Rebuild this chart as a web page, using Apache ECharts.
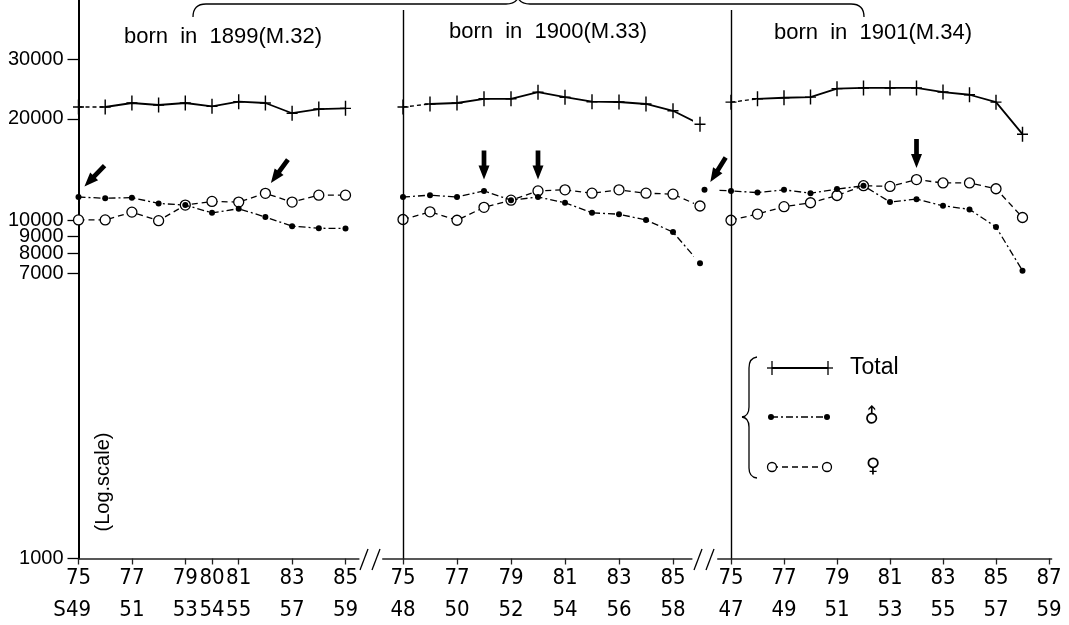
<!DOCTYPE html>
<html><head><meta charset="utf-8">
<script src="https://cdn.jsdelivr.net/npm/echarts@6/dist/echarts.min.js"></script>
<style>html,body{margin:0;padding:0;background:#fff}#c{width:1069px;height:625px}</style>
</head><body><div id="c"></div>
<script>
// ---------- data ----------
const titles = ['born  in  1899(M.32)', 'born  in  1900(M.33)', 'born  in  1901(M.34)'];

const years1   = [75,76,77,78,79,80,81,82,83,84,85];
const total1   = [21700,21700,22300,22000,22300,21800,22500,22300,20800,21400,21500];
const male1    = [11750,11650,11700,11250,11120,10550,10850,10250,9630,9500,9480];
const female1  = [10050,10050,10600,10000,11120,11400,11350,12050,11350,11900,11900];

const years2   = [75,76,77,78,79,80,81,82,83,84,85,86];
const total2   = [21700,22150,22300,22950,22950,24000,23200,22500,22450,22150,21150,19300];
const male2    = [11750,11900,11750,12250,11500,11750,11300,10550,10450,10050,9250,7480];
const female2  = [10080,10620,10030,10950,11500,12250,12340,12060,12340,12060,11980,11050];

const years3     = [75,76,77,78,79,80,81,82,83,84,85,86];
const total3     = [22430,22950,23110,23220,24590,24710,24710,24710,24030,23590,22430,18030];
const maleYears3 = [74,75,76,77,78,79,80,81,82,83,84,85,86];
const male3      = [12340,12250,12110,12340,12060,12400,12690,11360,11580,11070,10800,9580,7110];
const female3    = [10030,10460,11000,11300,11870,12690,12630,13230,12930,12930,12430,10220];

// arrows: [panel, which series, year]
const arrows = [[0,'male',75],[0,'female',82],[1,'male',78],[1,'female',80],[2,'male',74],[2,'female',82]];

const yTicks = [1000,7000,8000,9000,10000,20000,30000];
const xTicks1 = [75,77,79,80,81,83,85];
const showa1  = ['S49','51','53','54','55','57','59'];
const xTicks2 = [75,77,79,81,83,85];
const showa2  = ['48','50','52','54','56','58'];
const xTicks3 = [75,77,79,81,83,85,87];
const showa3  = ['47','49','51','53','55','57','59'];

// ---------- layout ----------
const panels = [
  {years: years1, total: total1, maleX: years1, male: male1, female: female1, xmin: 75,    xmax: 85.5,  left: 78.5,  pxYr: 26.7, ticks: xTicks1, showa: showa1},
  {years: years2, total: total2, maleX: years2, male: male2, female: female2, xmin: 74.25, xmax: 85.7,  left: 382.75, pxYr: 27.0, ticks: xTicks2, showa: showa2},
  {years: years3, total: total3, maleX: maleYears3, male: male3, female: female3, xmin: 74.5, xmax: 87.1, left: 717.75, pxYr: 26.5, ticks: xTicks3, showa: showa3}
];
const Y_MIN = 1000, Y_MAX = 45000, GRID_TOP = 0, GRID_H = 558.5;
const NARROW = "'Liberation Sans Narrow','Arial Narrow','DejaVu Sans Condensed',sans-serif";
const SANS = "'Liberation Sans',Arial,sans-serif";

const zip = (xs, ys) => xs.map((x, i) => [x, ys[i]]);
const PLUS = 'path://M4.35,0H5.65V6.35H10V7.65H5.65V14H4.35V7.65H0V6.35H4.35Z';
const ARROW = 'path://M3,0H7.5V15H10.5L5.25,29L0,15H3Z';

const grids = [], xAxes = [], yAxes = [], series = [];
panels.forEach((p, i) => {
  const width = (p.xmax - p.xmin) * p.pxYr;
  grids.push({left: p.left, top: GRID_TOP, width: width, height: GRID_H, outerBoundsMode: 'none', containLabel: false});
  xAxes.push({
    type: 'value', gridIndex: i, min: p.xmin, max: p.xmax,
    axisLine: {show: true, onZero: false, lineStyle: {color: '#222', width: 1.5}},
    splitLine: {show: false},
    axisTick: {show: true, customValues: p.ticks, length: 6, lineStyle: {color: '#222', width: 1.3}},
    axisLabel: {
      customValues: p.ticks, margin: 4, color: '#000',
      formatter: v => {
        const k = p.ticks.indexOf(Math.round(v));
        if (k < 0) return '';
        const s = p.showa[k];
        return '{y|' + p.ticks[k] + '}\n{s|' + s + '}' + (s.charAt(0) === 'S' ? '{g|S}' : '');
      },
      rich: {
        y: {fontFamily: NARROW, fontSize: 22, lineHeight: 32, color: '#000'},
        s: {fontFamily: NARROW, fontSize: 22, lineHeight: 32, color: '#000'},
        g: {fontFamily: NARROW, fontSize: 22, lineHeight: 32, color: 'rgba(0,0,0,0)'}
      }
    }
  });
  yAxes.push({
    type: 'log', logBase: 10, gridIndex: i, min: Y_MIN, max: Y_MAX,
    show: i === 0,
    axisLine: {show: i === 0, lineStyle: {color: '#000', width: 2}},
    splitLine: {show: false},
    axisTick: {show: i === 0, customValues: yTicks, length: 11, lineStyle: {color: '#000', width: 1.3}},
    axisLabel: {show: i === 0, customValues: yTicks, margin: 15, color: '#000', fontFamily: SANS, fontSize: 20,
      formatter: v => String(Math.round(v))}
  });
  const base = {xAxisIndex: i, yAxisIndex: i, clip: false, animation: false, silent: true};
  series.push(Object.assign({}, base, {
    type: 'line', name: 'female' + i, data: zip(p.years, p.female),
    symbol: 'circle', symbolSize: 10,
    lineStyle: {color: '#000', width: 1.3, type: [6, 4]},
    itemStyle: {color: '#fff', borderColor: '#000', borderWidth: 1.3, opacity: 1}, z: 2
  }));
  series.push(Object.assign({}, base, {
    type: 'line', name: 'male' + i, data: zip(p.maleX, p.male),
    symbol: 'circle', symbolSize: 6,
    lineStyle: {color: '#000', width: 1.3, type: [7, 3, 2, 3]},
    itemStyle: {color: '#000', opacity: 1}, z: 3
  }));
  const tot = zip(p.years, p.total);
  series.push(Object.assign({}, base, {
    type: 'line', data: tot.slice(0, 2), symbol: 'none',
    lineStyle: {color: '#000', width: 1.3, type: [4, 3]}, z: 2
  }));
  const mainTot = Object.assign({}, base, {
    type: 'line', data: tot.slice(1), symbol: 'none',
    lineStyle: {color: '#000', width: 1.8}, z: 2
  });
  if (i > 0) {
    mainTot.markLine = {
      silent: true, symbol: 'none', label: {show: false},
      lineStyle: {color: '#000', width: 1.4, type: 'solid'},
      data: [[{coord: [75, Y_MIN]}, {coord: [75, 42000]}]]
    };
  }
  series.push(mainTot);
  series.push(Object.assign({}, base, {
    type: 'scatter', data: tot, symbol: PLUS, symbolSize: [11, 15],
    itemStyle: {color: '#000', opacity: 1}, z: 4
  }));
  const arrowData = arrows.filter(a => a[0] === i).map(a => {
    const xs = a[1] === 'male' ? p.maleX : p.years;
    const ys = a[1] === 'male' ? p.male : p.female;
    const v = ys[xs.indexOf(a[2])];
    let rot = 0, off = [0, -26];
    if (i === 0 && a[2] === 75) { rot = -44; off = [16, -21]; }
    else if (i === 0 && a[2] === 82) { rot = -36; off = [14, -22]; }
    else if (i === 2 && a[2] === 74) { rot = -32; off = [13.5, -20]; }
    return {value: [a[2], v], symbolRotate: rot, symbolOffset: off};
  });
  series.push(Object.assign({}, base, {
    type: 'scatter', data: arrowData, symbol: ARROW, symbolSize: [11, 29],
    itemStyle: {color: '#000', opacity: 1}, z: 5
  }));
});

// ---------- decorations ----------
const graphic = [];
const STROKE = {fill: 'none', stroke: '#000', lineWidth: 1.3};
function seg(x1, y1, x2, y2) { graphic.push({type: 'line', shape: {x1, y1, x2, y2}, style: STROKE}); }
function curve(x1, y1, cx, cy, x2, y2) { graphic.push({type: 'bezierCurve', shape: {x1, y1, cpx1: cx, cpy1: cy, x2, y2}, style: STROKE}); }

const titlePos = [[223, 37], [548, 32], [873, 33]];
titles.forEach((t, i) => graphic.push({type: 'text', x: titlePos[i][0], y: titlePos[i][1],
  style: {text: t, font: '22px ' + SANS, fill: '#000', align: 'center', verticalAlign: 'middle'}}));
// brace above panels
curve(193, 17, 193, 4, 206, 4); seg(206, 4, 506, 4); curve(506, 4, 515, 4, 518, -2);
curve(518, -2, 521, 4, 530, 4); seg(530, 4, 851, 4); curve(851, 4, 864, 4, 864, 17);
// axis breaks
[360, 372, 694, 706].forEach(x0 => seg(x0, 570, x0 + 8, 549));
// log scale note
graphic.push({type: 'text', x: 103, y: 482, rotation: Math.PI / 2,
  style: {text: '(Log.scale)', font: '20px ' + SANS, fill: '#000', align: 'center', verticalAlign: 'middle'}});
// legend
const LT = 368, LM = 417, LF = 467;
curve(757, 357, 749, 358, 749, 368); seg(749, 368, 749, 407); curve(749, 407, 749, 416, 742, 417);
curve(742, 417, 749, 418, 749, 427); seg(749, 427, 749, 468); curve(749, 468, 749, 477, 757, 478);
graphic.push({type: 'line', shape: {x1: 772, y1: LT, x2: 828, y2: LT}, style: {stroke: '#000', lineWidth: 1.8}});
[772, 828].forEach(x => { seg(x, LT - 7, x, LT + 7); seg(x - 5, LT, x + 5, LT); });
graphic.push({type: 'text', x: 850, y: LT, style: {text: 'Total', font: '23px ' + SANS, fill: '#000', align: 'left', verticalAlign: 'middle'}});
graphic.push({type: 'line', shape: {x1: 771, y1: LM, x2: 827, y2: LM}, style: {stroke: '#000', lineWidth: 1.3, lineDash: [7, 3, 2, 3]}});
[771, 827].forEach(x => graphic.push({type: 'circle', shape: {cx: x, cy: LM, r: 3}, style: {fill: '#000'}}));
graphic.push({type: 'text', x: 873, y: LM, rotation: Math.PI / 4, style: {text: '♂', font: '20px DejaVu Sans', fill: '#000', align: 'center', verticalAlign: 'middle'}});
graphic.push({type: 'line', shape: {x1: 772, y1: LF, x2: 827, y2: LF}, style: {stroke: '#000', lineWidth: 1.3, lineDash: [6, 4]}});
[772, 827].forEach(x => graphic.push({type: 'circle', shape: {cx: x, cy: LF, r: 4.5}, style: {fill: '#fff', stroke: '#000', lineWidth: 1.3}}));
graphic.push({type: 'text', x: 873, y: LF, style: {text: '♀', font: '20px DejaVu Sans', fill: '#000', align: 'center', verticalAlign: 'middle'}});

const chart = echarts.init(document.getElementById('c'), null, {renderer: 'canvas'});
chart.setOption({
  backgroundColor: '#fff',
  animation: false,
  grid: grids, xAxis: xAxes, yAxis: yAxes, series: series, graphic: graphic
});
</script></body></html>
